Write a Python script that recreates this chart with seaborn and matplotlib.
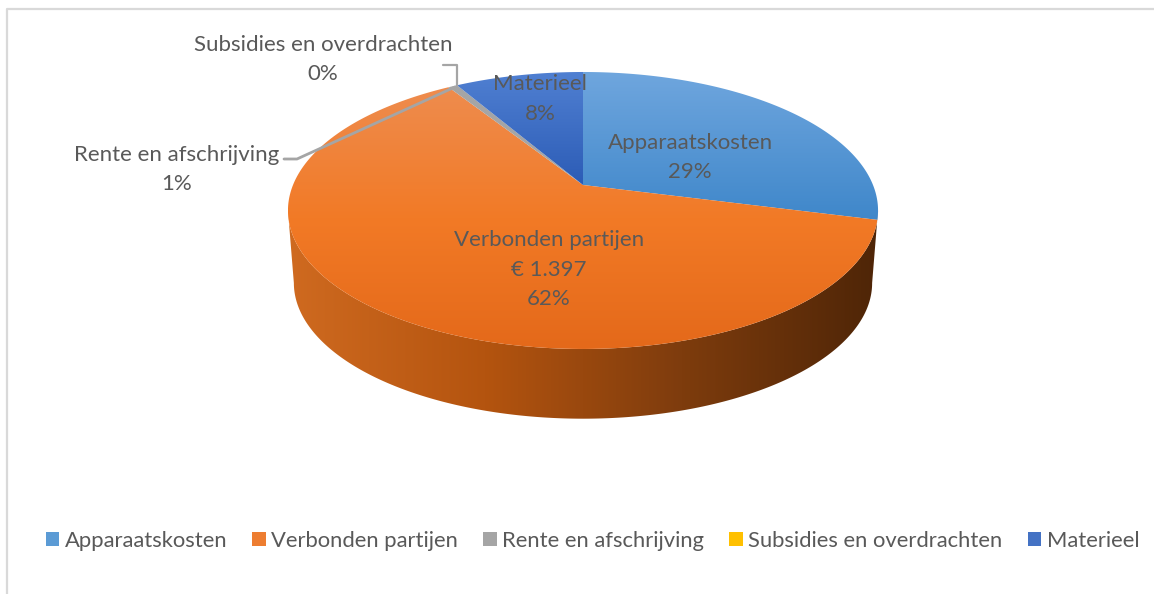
import numpy as np
import matplotlib
matplotlib.use("Agg")
import matplotlib.pyplot as plt
from matplotlib.patches import Polygon, Patch
from matplotlib.colors import LinearSegmentedColormap
import seaborn as sns

categories = ["Apparaatskosten", "Verbonden partijen", "Rente en afschrijving",
              "Subsidies en overdrachten", "Materieel"]
percentages = [29.0, 62.0, 0.6, 0.0, 8.4]
amount_label = "€ 1.397"
legend_colors = ["#5B9BD5", "#ED7D31", "#A5A5A5", "#FFC000", "#4472C4"]
top_gradients = [["#6FA6DE", "#3F87CA"], ["#EE8C4E", "#F27A26", "#E4691A"], ["#A5A5A5", "#A5A5A5"],
                 ["#FFC000", "#FFC000"], ["#5080D2", "#2C5CB6"]]
side_gradient = ["#CF6A20", "#B4540F", "#7E3C0D", "#4E2507"]

sns.set_theme(style="white")
plt.rcParams["font.family"] = ["Lato", "DejaVu Sans"]
TXT = "#595959"
palette = sns.color_palette(legend_colors)

W, H = 1154, 594
fig = plt.figure(figsize=(W / 100, H / 100), dpi=100, facecolor="white")
ax = fig.add_axes([0, 0, 1, 1])
ax.set_xlim(0, W)
ax.set_ylim(H, 0)
ax.axis("off")

# Projection of the tilted disc onto the picture
CX, CY, SX, SY, K = 583.0, 185.0, 290.0, 133.8, 0.184
DEPTH, SHRINK = 73.0, 0.98


def project(theta, bottom=False):
    x, y = np.sin(theta), np.cos(theta)
    d = 1 + K * y
    px, py = SX * x / d, -SY * y / d
    if bottom:
        return CX + px * SHRINK, CY + py * SHRINK + DEPTH
    return CX + px, CY + py


def gradient_fill(poly, colors, horizontal=False, z=2):
    clip = Polygon(poly, closed=True, fc="none", ec="none", transform=ax.transData)
    ax.add_patch(clip)
    cm = LinearSegmentedColormap.from_list("g", colors)
    grad = np.linspace(0, 1, 256)
    grad = grad.reshape(1, -1) if horizontal else grad.reshape(-1, 1)
    x0, x1, y0, y1 = poly[:, 0].min(), poly[:, 0].max(), poly[:, 1].min(), poly[:, 1].max()
    im = ax.imshow(grad, cmap=cm, extent=(x0, x1, y1, y0), aspect="auto", zorder=z)
    im.set_clip_path(clip)


edges = 2 * np.pi * np.concatenate([[0], np.cumsum(percentages)]) / sum(percentages)

# Side wall, between the left and right extremes of the disc outline
right = np.arccos(-K)
t = np.linspace(right, 2 * np.pi - right, 400)
tx, ty = project(t)
bx, by = project(t, bottom=True)
gradient_fill(np.column_stack([np.r_[tx, bx[::-1]], np.r_[ty, by[::-1]]]),
              side_gradient, horizontal=True, z=1)

# Top face, wedge by wedge, with a vertical gradient
for i, pct in enumerate(percentages):
    if pct == 0:
        continue
    t = np.linspace(edges[i], edges[i + 1], 200)
    xs, ys = project(t)
    gradient_fill(np.column_stack([np.r_[CX, xs], np.r_[CY, ys]]), top_gradients[i])
ax.set_xlim(0, W)
ax.set_ylim(H, 0)

# Chart-area border
ax.plot([7, 7, W], [H, 9, 9], color="#D9D9D9", lw=1.6, zorder=1)

# Leader lines
LEAD = "#A5A5A5"
ax.plot([443, 457, 457], [65, 65, 87], color=LEAD, lw=1.6, zorder=3)
ax.plot([284, 297, 455], [159, 159, 87], color=LEAD, lw=2.0, zorder=3)

# Data labels
FS = 16.0
labels = [
    (690, [categories[0], f"{percentages[0]:.0f}%"]),
    (549, [categories[1], amount_label, f"{percentages[1]:.0f}%"]),
    (177, [categories[2], f"{percentages[2]:.0f}%"]),
    (323, [categories[3], f"{percentages[3]:.0f}%"]),
    (540, [categories[4], f"{percentages[4]:.0f}%"]),
]
starts = [143, 240, 155, 45, 84]
for (x, lines), y0 in zip(labels, starts):
    for j, s in enumerate(lines):
        ax.text(x, y0 + j * 29.5, s, ha="center", va="center", fontsize=FS,
                color=TXT, zorder=4)

# Legend
handles = [Patch(fc=c, ec="none") for c in palette]
ax.legend(handles, categories, loc="center", bbox_to_anchor=(592.5 / W, 1 - 541 / H),
          ncol=5, frameon=False, fontsize=15.8, labelcolor=TXT,
          handlelength=0.62, handleheight=0.62, handletextpad=0.25, columnspacing=1.14)

fig.savefig("out.png", dpi=100)
